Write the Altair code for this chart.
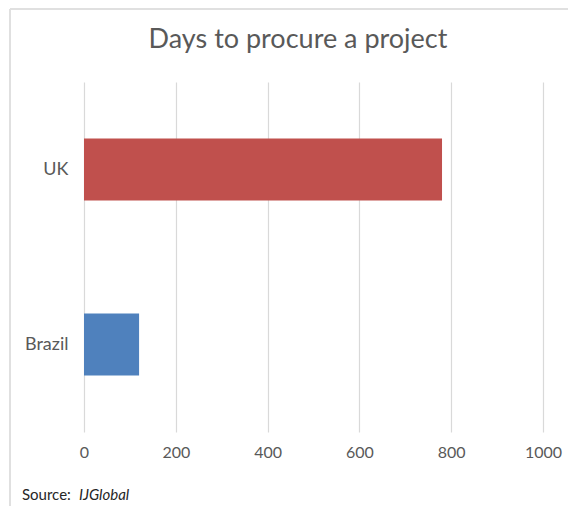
import altair as alt
import pandas as pd

countries = ["UK", "Brazil"]
days = [780, 120]
colors = ["#C0504D", "#4F81BD"]
x_ticks = [0, 200, 400, 600, 800, 1000]
title_text = "Days to procure a project"
source_label = "Source:"
source_name = "IJGlobal"

df = pd.DataFrame({"country": countries, "days": days})

FONT = "Lato"
GRAY = "#595959"
GRID = "#d9d9d9"

bars = alt.Chart(df).mark_bar().encode(
    x=alt.X("days:Q",
            scale=alt.Scale(domain=[0, 1000], nice=False),
            axis=alt.Axis(values=x_ticks, format="d", title=None, grid=True, gridColor=GRID,
                          gridWidth=1.2, domain=False, ticks=False, labelPadding=12,
                          labelFlush=False,
                          labelFontSize=16, labelColor=GRAY, labelFont=FONT)),
    y=alt.Y("country:N", sort=countries,
            scale=alt.Scale(paddingInner=0.645, paddingOuter=0.3225),
            axis=alt.Axis(title=None, domain=False, ticks=False, labelPadding=16,
                          labelFontSize=18, labelColor=GRAY, labelFont=FONT)),
    color=alt.Color("country:N", scale=alt.Scale(domain=countries, range=colors), legend=None),
)

border_left = alt.Chart(df).mark_rule(color="#e0e0e0", strokeWidth=2).encode(
    x=alt.value(-74), y=alt.value(-73), y2=alt.value(440))
border_top = alt.Chart(df).mark_rule(color="#e0e0e0", strokeWidth=2).encode(
    x=alt.value(-74), x2=alt.value(500), y=alt.value(-73))

title = alt.Chart(pd.DataFrame({"t": [title_text]})).mark_text(
    align="center", baseline="alphabetic", font=FONT, fontSize=27, color=GRAY).encode(
    x=alt.value(214), y=alt.value(-34), text="t:N")

src1 = alt.Chart(pd.DataFrame({"t": [source_label]})).mark_text(
    align="left", baseline="middle", font=FONT, fontSize=15, color="#262626").encode(
    x=alt.value(-62), y=alt.value(413), text="t:N")
src2 = alt.Chart(pd.DataFrame({"t": [source_name]})).mark_text(
    align="left", baseline="middle", font=FONT, fontSize=15, fontStyle="italic",
    color="#262626").encode(
    x=alt.value(-5), y=alt.value(413), text="t:N")

chart = alt.layer(bars, border_left, border_top, title, src1, src2).properties(
    width=459, height=350,
    autosize=alt.AutoSizeParams(type="none"),
    padding={"left": 76, "top": 74, "right": 25, "bottom": 74},
).configure_view(stroke=None)

chart.save("out.html", embed_options={"renderer": "svg", "actions": False})
